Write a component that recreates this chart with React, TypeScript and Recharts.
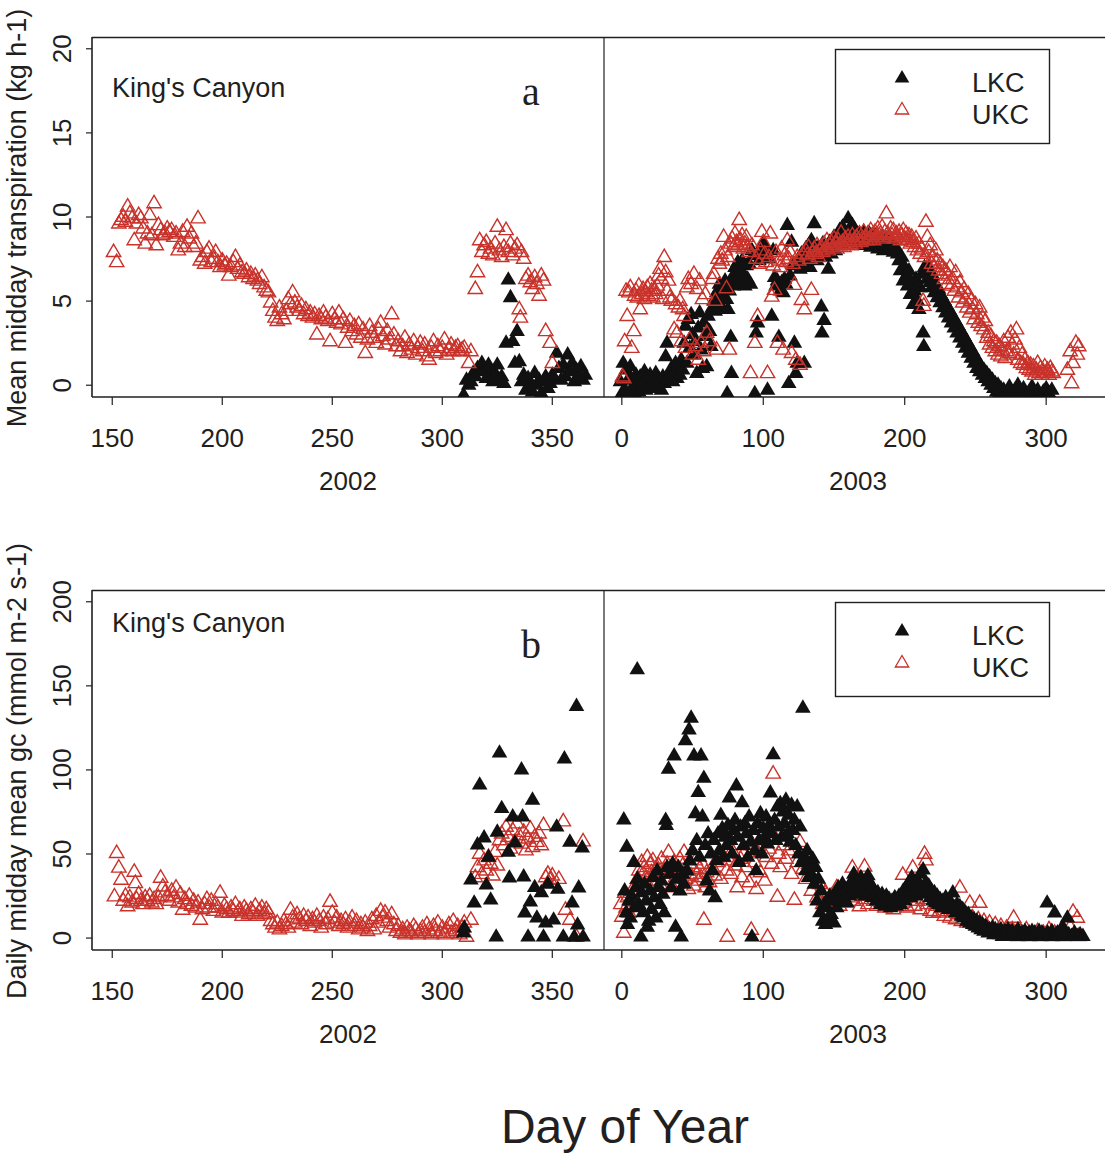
import React from 'react';
import { ScatterChart, Scatter, XAxis, YAxis } from 'recharts';

const RED = '#c8322a';
const BLK = '#111111';
const INK = '#231f20';
const FONT = '"Liberation Sans", Arial, Helvetica, sans-serif';

const ticks2002 = [150, 200, 250, 300, 350];
const ticks2003 = [0, 100, 200, 300];
const ticksTransp = [0, 5, 10, 15, 20];
const ticksGc = [0, 50, 100, 150, 200];
const yearLabels = ['2002', '2003'];
const legendLabels = ['LKC', 'UKC'];
const panelLetters = ['a', 'b'];
const yTitles = ['Mean midday transpiration (kg h-1)', 'Daily midday mean gc (mmol m-2 s-1)'];

// Panel a: mean midday transpiration (kg h-1)
const transpUKC2002: [number, number][] = [
  [150.6,7.9],[152,7.3],[153,9.6],[154,9.8],[155,10.0],[156,9.7],[157,10.6],[158,10.2],[159,9.9],[160,8.6],
  [161,9.6],[162,10.1],[163,9.9],[164,9.3],[165,8.4],[166,9.0],[167,10.1],[168,8.9],[169,10.8],[170,8.3],
  [171,9.5],[172,9.2],[173,8.9],[174,9.0],[175,9.3],[176,9.1],[177,9.2],[178,8.8],[179,9.0],[180,8.0],
  [181,8.4],[182,9.1],[183,8.2],[184,9.4],[185,8.7],[186,9.0],[187,8.2],[188,8.4],[189,9.9],[190,7.4],
  [191,7.6],[192,7.2],[193,7.9],[194,8.1],[195,7.3],[196,7.5],[197,7.9],[198,7.3],[199,7.0],[200,7.4],
  [201,7.1],[202,7.2],[203,6.5],[204,7.0],[205,7.3],[206,7.6],[207,6.9],[208,7.1],[209,6.7],[210,6.6],
  [211,6.8],[212,6.4],[213,6.6],[214,6.3],[215,6.5],[216,6.2],[217,6.0],[218,6.4],[219,5.8],[220,5.6],
  [221,5.5],[222,4.9],[223,4.4],[224,4.0],[225,3.8],[226,4.6],[227,4.2],[228,3.9],[229,4.4],[230,5.1],
  [231,4.8],[232,5.5],[233,4.9],[234,4.6],[235,4.4],[236,4.7],[237,4.2],[238,4.5],[239,4.1],[240,4.3],
  [241,4.0],[242,4.2],[243,3.0],[244,4.1],[245,3.9],[246,4.3],[247,4.0],[248,3.8],[249,2.6],[250,4.2],
  [251,3.9],[252,3.7],[253,4.3],[254,3.6],[255,3.9],[256,2.5],[257,3.4],[258,3.8],[259,3.2],[260,3.5],
  [261,3.0],[262,3.6],[263,2.8],[264,3.3],[265,1.9],[266,2.7],[267,3.5],[268,3.1],[269,2.8],[270,2.5],
  [271,3.3],[272,3.7],[273,2.9],[274,2.4],[275,3.2],[276,2.7],[277,4.2],[278,3.0],[279,2.3],[280,2.6],
  [281,2.0],[282,2.3],[283,2.8],[284,1.9],[285,2.4],[286,2.1],[287,2.6],[288,1.8],[289,2.2],[290,2.5],
  [291,2.0],[292,2.4],[293,1.7],[294,1.5],[295,2.2],[296,2.6],[297,1.9],[298,2.3],[299,2.0],[300,2.2],
  [301,2.7],[302,1.8],[303,2.1],[304,2.4],[305,2.0],[306,2.2],[307,2.3],[308,2.0],[309,2.1],[310,2.2],
  [312,1.3],[313,2.0],[315,5.7],[316,6.7],[317,8.6],[318,7.9],[319,8.3],[320,8.5],[321,7.8],[322,8.1],
  [323,7.7],[324,8.4],[325,9.4],[326,8.0],[327,7.6],[328,8.2],[329,9.2],[330,7.9],[331,8.4],[332,7.7],
  [333,8.1],[334,8.3],[335,4.5],[335.5,4.0],[336,7.9],[337,7.5],[338,6.3],[339,6.5],[340,6.1],[341,5.7],
  [342,6.4],[343,6.0],[344,5.3],[345,6.5],[346,6.2],[347,3.2],[349,2.5],[350,1.3],
];

const transpLKC2002: [number, number][] = [
  [309.7,-0.6],[311,0.3],[312,0.0],[313,0.2],[314,0.7],[315,0.5],[316,1.0],[317,0.8],[318,1.3],[319,0.9],
  [320,0.4],[321,1.2],[322,0.6],[323,0.2],[324,0.7],[325,1.2],[326,0.3],[327,0.5],[328,0.1],[329,2.5],
  [330,6.25],[331,5.2],[332,2.6],[333,1.3],[334,3.2],[335,1.4],[336,0.2],[337,0.6],[338,-0.3],[339,0.4],
  [340,0.1],[341,-0.4],[342,0.7],[343,0.0],[344,0.3],[345,-0.5],[346,0.2],[347,0.5],[348,-0.2],[349,0.1],
  [350,0.6],[351,0.4],[352,1.9],[353,1.0],[354,0.3],[355,1.2],[356,0.5],[357,1.8],[358,0.8],[359,1.3],
  [360,0.2],[361,0.9],[362,0.5],[363,1.1],[364,0.3],[365,0.6],
];

const transpUKC2003: [number, number][] = [
  [0.5,0.5],[1.4,0.4],[2,2.6],[3,5.6],[3.8,4.1],[5,5.5],[6,5.8],[7,2.2],[8.5,3.2],[9,5.3],
  [10,5.6],[11,5.2],[12,5.9],[13,4.5],[14,5.4],[15,5.7],[16,5.1],[17,5.5],[18,5.8],[19,5.3],
  [20,6.0],[21,5.6],[22,5.2],[23,5.7],[24,5.4],[25,5.9],[26,6.5],[27,6.9],[28,6.3],[29,5.1],
  [30,7.6],[31,6.7],[32,5.6],[33,6.2],[34,5.2],[35,5.0],[37,3.3],[38,4.8],[39,3.1],[40,4.6],
  [41,5.0],[42,2.6],[43,4.5],[44,4.1],[45,2.2],[46,5.8],[47,6.3],[48,2.7],[49,6.0],[50,1.8],
  [51,6.6],[52,2.3],[53,5.7],[54,1.5],[55,6.2],[56,2.5],[57,5.1],[58,2.0],[59,5.4],[60,3.1],
  [62,2.6],[64,6.3],[65,6.6],[66,5.0],[67,2.1],[68,7.5],[69,7.2],[70,7.8],[71,7.4],[72,8.8],
  [73,8.0],[74,5.75],[75,7.6],[76,2.1],[77,8.4],[78,8.7],[79,8.2],[80,9.0],[81,8.5],[82,8.3],
  [83,9.8],[84,8.6],[85,8.9],[86,8.1],[87,8.4],[88,8.8],[89,8.2],[90,7.9],[91,0.7],[92,8.3],
  [94,2.5],[95,7.5],[96,4.1],[97,7.2],[98,8.0],[99,9.1],[100,8.5],[101,7.8],[102,7.3],[103,0.7],
  [104,7.6],[105,9.0],[106,5.25],[107,7.1],[108,5.65],[109,7.9],[110,2.5],[111,7.4],[112,7.0],[113,8.1],
  [114,2.1],[115,7.7],[116,7.3],[117,8.6],[118,7.5],[119,7.9],[120,1.9],[121,7.2],[122,5.95],[123,1.5],
  [124,7.6],[125,7.4],[126,1.2],[127,5.05],[128,7.8],[129,4.5],[130,8.0],[131,7.7],[132,8.2],[133,7.5],
  [134,5.65],[135,7.9],[136,8.1],[137,7.8],[138,8.3],[139,7.6],[140,8.0],[141,8.2],[142,7.9],[143,8.4],
  [144,8.1],[145,8.6],[146,8.0],[147,8.3],[148,8.5],[149,8.2],[150,8.7],[151,8.4],[152,8.1],[153,8.6],
  [154,8.3],[155,9.05],[156,8.5],[157,8.2],[158,8.7],[159,8.4],[160,8.8],[161,8.5],[162,8.3],[163,8.9],
  [164,8.6],[165,8.4],[166,8.8],[167,8.6],[168,9.0],[169,8.5],[170,8.7],[171,9.1],[172,8.8],[173,8.6],
  [174,9.0],[175,8.7],[176,9.2],[177,8.9],[178,8.6],[179,9.1],[180,8.8],[181,9.3],[182,8.9],[183,9.0],
  [184,9.4],[185,8.7],[186,9.1],[187,10.2],[188,9.0],[189,8.8],[190,9.3],[191,8.9],[192,9.2],[193,8.7],
  [194,9.0],[195,8.8],[196,9.1],[197,8.6],[198,8.9],[199,9.2],[200,8.7],[201,9.0],[202,8.6],[203,8.9],
  [204,8.4],[205,8.8],[206,8.5],[207,8.2],[208,8.7],[209,8.0],[210,8.4],[211,7.8],[212,8.1],[213,5.0],
  [213.5,4.7],[214,7.6],[215,9.7],[216,8.8],[217,7.9],[218,8.3],[219,7.2],[220,7.6],[221,7.0],[222,8.0],
  [223,7.4],[224,6.8],[225,7.2],[226,6.6],[227,7.0],[228,6.3],[229,6.8],[230,6.0],[231,6.5],[232,7.0],
  [233,5.9],[234,6.3],[235,5.6],[236,6.7],[237,5.8],[238,5.2],[239,6.1],[240,5.5],[241,4.9],[242,5.7],
  [243,5.1],[244,4.6],[245,5.4],[246,4.3],[247,5.0],[248,4.5],[249,3.9],[250,4.8],[251,4.2],[252,3.7],
  [253,4.6],[254,3.5],[255,4.0],[256,3.3],[257,3.8],[258,2.8],[259,3.1],[260,2.4],[261,2.9],[262,2.2],
  [263,2.6],[264,2.0],[265,2.5],[266,1.8],[267,2.3],[268,1.7],[269,2.1],[270,2.6],[271,1.6],[272,2.0],
  [273,2.8],[274,1.9],[275,3.1],[276,2.4],[277,1.8],[278,2.7],[279,3.3],[280,1.5],[281,2.2],[282,1.3],
  [283,1.8],[284,1.2],[285,1.5],[286,1.0],[287,1.3],[288,0.9],[289,1.2],[290,0.8],[291,1.1],[292,0.6],
  [293,0.9],[294,1.3],[295,0.7],[296,1.0],[297,0.6],[298,0.8],[299,1.1],[300,0.7],[301,0.9],[302,0.6],
  [303,1.0],[304,0.8],[305,0.7],[315,0.9],[317,2.0],[318,0.1],[319,1.3],[321,2.5],[322,1.8],[323,2.3],
];

const transpLKC2003: [number, number][] = [
  [-1,0.2],[0,-0.5],[1,1.3],[2,-0.3],[3,0.9],[4,-0.6],[5,0.4],[6,1.1],[7,-0.2],[8,0.3],
  [9,-0.5],[10,0.6],[11,0.1],[12,-0.4],[13,0.5],[14,-0.1],[15,0.2],[16,0.8],[17,-0.3],[18,0.4],
  [19,0.0],[20,0.6],[21,-0.2],[22,0.3],[23,0.1],[24,0.7],[25,-0.1],[26,0.4],[27,0.2],[28,-0.3],
  [29,0.5],[30,0.1],[31,1.7],[32,2.5],[33,0.3],[34,0.6],[35,1.0],[36,0.2],[37,0.8],[38,1.3],
  [39,0.4],[40,1.1],[41,0.6],[42,1.5],[43,0.9],[44,2.5],[45,3.5],[46,1.3],[47,3.9],[48,2.2],
  [49,4.2],[50,3.0],[51,1.8],[52,2.6],[53,0.7],[54,3.4],[55,4.3],[56,2.1],[57,1.0],[58,3.7],
  [59,2.9],[60,1.1],[61,4.1],[62,3.2],[63,2.3],[64,4.6],[65,5.0],[66,4.4],[67,5.5],[68,4.8],
  [69,6.0],[70,5.3],[71,4.6],[72,5.8],[73,6.2],[74,5.1],[74.5,-0.5],[75,4.5],[76,5.6],[77,2.85],
  [77.5,0.7],[78,6.4],[79,5.9],[80,7.0],[81,6.5],[82,7.3],[83,6.1],[84,6.8],[85,7.4],[86,6.6],
  [87,5.9],[88,7.1],[89,6.3],[90,7.2],[91,6.0],[92,8.0],[93,7.7],[94,-0.5],[95,3.1],[96,3.7],
  [97,7.4],[98,8.1],[99,7.6],[100,8.4],[101,7.9],[102,8.2],[103,-0.3],[104,7.5],[106,4.1],[107,8.0],
  [108,6.4],[109,5.9],[110,6.2],[111,2.85],[112,5.6],[113,6.1],[114,5.5],[115,6.3],[116,6.0],[117,9.5],
  [118,0.1],[119,6.5],[120,8.5],[121,7.1],[122,2.5],[123,0.7],[124,1.3],[125,7.4],[126,6.9],[127,7.8],
  [128,7.2],[129,1.3],[130,8.1],[131,7.5],[132,8.3],[133,7.0],[134,8.6],[135,7.7],[136,9.6],[137,8.0],
  [138,7.4],[139,8.2],[140,7.9],[141,4.65],[141.5,3.1],[142,8.4],[143,3.85],[144,7.6],[145,8.2],[146,6.9],
  [147,8.5],[148,7.8],[149,8.3],[150,8.8],[151,8.0],[152,8.6],[153,9.0],[154,9.2],[155,8.4],[156,9.4],
  [157,8.7],[158,9.1],[159,8.5],[160,9.9],[161,9.3],[162,8.8],[163,9.5],[164,8.6],[165,9.2],[166,8.9],
  [167,8.4],[168,9.0],[169,8.7],[170,8.5],[171,9.1],[172,8.3],[173,8.8],[174,8.6],[175,9.0],[176,8.2],
  [177,8.7],[178,8.4],[179,8.9],[180,8.5],[181,8.1],[182,8.6],[183,8.3],[184,8.8],[185,8.0],[186,8.4],
  [187,8.7],[188,8.1],[189,8.5],[190,8.2],[191,8.6],[192,7.9],[193,8.3],[194,8.0],[195,7.8],[196,7.4],
  [197,6.8],[198,7.6],[199,6.2],[200,7.0],[201,6.5],[202,5.9],[203,6.8],[204,5.4],[205,6.1],[206,4.8],
  [207,5.6],[208,6.3],[209,5.0],[210,4.5],[211,5.8],[212,6.6],[213,3.1],[213.5,2.3],[214,7.0],[215,6.7],
  [216,6.3],[217,7.0],[218,6.1],[219,5.8],[220,6.5],[221,5.5],[222,6.0],[223,5.2],[224,5.7],[225,4.9],
  [226,5.3],[227,4.6],[228,5.0],[229,4.3],[230,4.7],[231,4.0],[232,4.4],[233,3.7],[234,4.1],[235,3.4],
  [236,3.8],[237,3.1],[238,3.5],[239,2.8],[240,3.2],[241,2.5],[242,2.9],[243,2.2],[244,2.6],[245,1.9],
  [246,2.3],[247,1.6],[248,2.0],[249,1.3],[250,1.7],[251,1.0],[252,1.4],[253,0.8],[254,1.1],[255,0.6],
  [256,0.9],[257,0.4],[258,0.7],[259,0.2],[260,0.5],[261,0.0],[262,0.3],[263,-0.2],[264,0.1],[265,-0.4],
  [266,0.0],[267,-0.5],[268,-0.2],[269,-0.6],[270,-0.3],[272,-0.5],[274,-0.1],[276,-0.6],[278,-0.3],[280,0.0],
  [282,-0.5],[284,-0.2],[286,-0.6],[288,-0.4],[290,-0.1],[292,-0.5],[294,-0.3],[296,-0.6],[298,-0.4],[300,-0.2],
  [302,-0.5],[304,-0.3],
];

// Panel b: daily midday mean gc (mmol m-2 s-1)
const gcUKC2002: [number, number][] = [
  [151,24.6],[152,50.4],[153,41.7],[154,34.5],[155,22],[156,25],[157,18.7],[158,24],[159,21],[160,39.3],
  [160.5,32.5],[161,23],[162,26],[163,22],[164,20],[165,24],[166,22],[167,25],[168,21],[169,23],
  [170,20],[171,24],[172,35.7],[173,30.5],[174,27],[175,25],[176,22],[177,28],[178,24],[179,29.8],
  [180,21],[181,26],[182,16.7],[183,23],[184,20],[185,25],[186,19],[187,22],[188,18],[189,21],
  [190,10.7],[191,17],[192,20],[193,23],[194,18],[195,22],[196,16],[197,20],[198,18],[199,26.8],
  [200,15],[201,19],[202,17],[203,14.9],[204,18],[205,16],[206,20],[207,15],[208,17],[209,13],
  [210,18],[211,16],[212,14],[213,17],[214,15],[215,19],[216,13],[217,16],[218,18],[219,14],
  [220,17],[221,15],[222,10],[223,8],[224,6],[225,9],[226,5],[227,7],[228,10],[229,8],
  [230,6],[231,16.7],[232,12],[233,9],[234,14],[235,11],[236,8],[237,13],[238,10],[239,12],
  [240,7],[241,11],[242,9],[243,13],[244,10],[245,6],[246,12],[247,8],[248,11],[249,21.4],
  [250,14.9],[251,9],[252,12],[253,7],[254,10],[255,8],[256,11],[257,6],[258,9],[259,12],
  [260,7],[261,10],[262,5],[263,8],[264,6],[265,9],[266,4],[267,7],[268,11],[269,5],
  [270,13],[271,9],[272,16],[273,12],[274,15],[275,10],[276,6],[277,14],[278,8],[279,4],
  [280,7],[281,3],[282,5],[283,2],[284,6],[285,4],[286,3],[287,7],[288,5],[289,2],
  [290,4],[291,6],[292,3],[293,8],[294,5],[295,2],[296,7],[297,4],[298,9],[299,3],
  [300,6],[301,2],[302,5],[303,8],[304,3],[305,10],[306,4],[307,7],[308,2],[309,6],
  [310,9],[311,0.6],[313,10.7],[315,36],[316,42],[317,50],[318,38],[319,46],[320,40],[321,48],
  [322,44],[323,37],[324,51],[325,43],[326,58],[327,62],[328,55],[329,66],[330,60],[331,53],
  [332,64],[333,57],[334,68],[335,61],[336,56],[337,63],[338,52],[339,59],[340,65],[341,54],
  [342,60],[343,57],[344,62],[345,55],[346,67],[347,36],[348,38],[349,34.5],[350,37],[353,35],
  [355,69.2],[356,16.7],[358,10.7],[361,0.6],[364,57.3],
];

const gcLKC2002: [number, number][] = [
  [309.7,3],[310,6.0],[313,34.5],[314.5,20.8],[316,55.4],[317,91],[319,59.5],[320,31.5],[321,48],[322,22.6],
  [324.5,0.6],[325,63],[326,110],[327,77],[330,51],[330.5,35.7],[332,72],[333,56.5],[336,100],[336.5,72],
  [337,36.3],[337.5,14.9],[339,0.6],[340,21.4],[341,82],[342,30],[343,11.9],[345,27],[346,0.6],[347,8.9],
  [348,32],[350.6,10.7],[352,66],[352.5,29],[355,0.6],[355.5,106.5],[358,57],[359,20.8],[360,0.6],[361,137.7],
  [361.5,7.7],[362,29.8],[363.6,53.6],[364,0.6],
];

const gcUKC2003: [number, number][] = [
  [-0.7,20],[0,12.5],[1.4,3.0],[2,26.8],[3,18],[4,24],[5,15],[6,22],[7,28],[8,20],
  [10,30],[11,35],[12,40],[13,33],[14,45],[15,38],[16,42],[17,36],[18,48],[19,31],
  [20,44],[21,39],[22,46],[23,34],[24,41],[25,37],[26,43],[27,32],[28,47],[29,38],
  [30,40],[31,35],[32,44],[33,51],[34,39],[35,42],[36,30],[37,45],[38,36],[39,41],
  [40,33],[41,47],[42,38],[43,43],[44,51],[45,35],[46,40],[47,29],[48,44],[49,37],
  [50,42],[51,31],[52,46],[53,38],[54,34],[55,41],[56,36],[57,44],[58,10.7],[59,30],
  [60,39],[62,33],[64,42],[66,37],[68,45],[70,35],[72,48],[74,40],[74.5,0.6],[76,46],
  [77,38],[78,52],[80,43],[81.5,30],[82,55],[84,47],[85,36],[86,50],[88,42],[90,33],
  [91.5,4.8],[92,56],[94,45],[95,29],[96,51],[98,39],[100,58],[101,34],[102,48],[103,0.6],
  [104,53],[106,44],[107,97.6],[108,60],[110,24.4],[111,50],[112,42],[114,55],[116,47],[118,52],
  [120,38],[122,22.6],[124,45],[126,57],[128,41],[130,35],[132,44],[134,28],[136,38],[138,24],
  [140,32],[142,20],[144,27],[146,18.7],[148,25],[150,22],[152,30],[154,19],[156,26],[158,21],
  [160,28],[162,24],[163,41.7],[164,22],[166,27],[168,18.7],[170,25],[171.6,42.3],[172,23],[174,20],
  [176,26],[178,22],[180,19],[182,24],[184,21],[186,18],[188,23],[190,20],[192,17],[194,22],
  [196,19],[198.6,37.5],[200,21],[202,18],[204,24],[205.7,41.7],[207,19],[209,22],[211,17],[213,23],
  [214,50],[215,46],[216,20],[218,16],[220,14.9],[222,19],[224,15],[226,18],[228,13],[230,16],
  [232,12],[234,15],[236,11],[238,14],[239,29.8],[240,10],[242,13],[244,9],[246,20.8],[248,12],
  [250,8],[252,11],[253,20.8],[254,7],[256,10],[258,6],[260,9],[262,5],[264,8],[266,4],
  [268,7],[270,3],[272,6],[274,2],[276,5],[277,11.9],[278,3],[280,1],[282,4],[284,2],
  [286,5],[288,1],[290,3],[292,2],[294,4],[296,1],[298,3],[300,2],[302,5],[304,1],
  [306,3],[308,2],[310,4],[312,1],[314,3],[317,6.5],[319,15.5],[320,2],[322,11.9],[323,1],
];

const gcLKC2003: [number, number][] = [
  [1.4,70.2],[3.5,54],[2,28],[3,15],[4,8],[5,22],[6,12],[7,25],[8.5,45],[9,18],
  [10,30],[10.9,159.5],[11,35],[12,20],[13.5,0.6],[14,27],[15,15],[16,32],[17,22],[18,6.5],
  [19,10],[20,28],[21,17],[22,36],[23,24],[24,12],[25,40],[26,30],[27,20],[28,34],
  [29,26],[30,15],[31,70],[31.5,67],[32,42],[33,100.4],[34,38],[35,30],[36,44],[37,108.3],
  [38,6.5],[39,35],[40,42],[41,28],[42,0.6],[43,38],[44,32],[45,117.4],[46,40],[47.5,123.8],
  [48,46],[49,130.8],[50,52],[51,108.3],[52,74],[53,58],[54,86.5],[55,48],[56,108.3],[57,72],
  [58,95],[59,55],[60,34],[61,62],[62,28],[63,50],[64,40],[65,58],[66,24],[67,46],
  [68,62],[69,52],[70,73],[71,65],[72,48],[73,60],[74,55],[75,67],[76,83.3],[77,58],
  [78,50],[79,64],[80,70],[81,90.5],[82,60],[83,45],[84,66],[85,80.4],[86,55],[87,68],
  [88,62],[89,48],[90,72],[91,57],[92,0.6],[93,64],[94,52],[95,40],[96,68],[97,58],
  [98,74],[99,50],[100,65],[101,60],[102,72],[103,56],[104,67],[105,86.3],[106,62],[107,109],
  [108,70],[109,58],[110,78],[111,66],[112,80],[113,60],[114,75],[115,68],[116,82],[117,62],
  [118,73],[119,57],[120,79],[121,64],[122,70],[123,55],[124,78],[125,50],[126,66],[127,45],
  [128,136.7],[129,48],[130,40],[131,52],[132,36],[133,44],[134,38],[135,47],[136,32],[137,42],
  [138,22],[139,35],[140,15],[141,28],[142,10],[143,20],[144,8],[145,18],[146,12],[147,25],
  [148,14],[149,22],[150,9],[151,27],[152,18],[153,30],[154,22],[155,26],[156,32],[157,24],
  [158,28],[159,21],[160,30],[161,25],[162,33],[163,27],[164,38],[165,29],[166,34],[167,26],
  [168,31],[169,36],[170,28],[171,33],[172,25],[173,30],[174,37],[175,27],[176,32],[177,24],
  [178,29],[179,26],[180,22],[181,27],[182,24],[183,20],[184,26],[185,22],[186,19],[187,25],
  [188,21],[189,23],[190,18],[191,22],[192,20],[193,24],[194,19],[195,21],[196,25],[197,20],
  [198,23],[199,28],[200,22],[201,30],[202,26],[203,33],[204,24],[205,36],[206,28],[207,31],
  [208,25],[209,34],[210,27],[211,38],[212,30],[213,40.5],[214,29],[215,33],[216,26],[217,31],
  [218,24],[219,28],[220,22],[221,27],[222,21],[223,25],[224,20],[225,23],[226,18],[227,22],
  [228,19],[229,24],[230,20],[231,17],[232,22],[233,19],[234,26.8],[235,18],[236,15],[237,20],
  [238,16],[239,18.7],[240,13],[241,17],[242,12],[243,15],[244,10],[245,14],[246,9],[247,12],
  [248,8],[249,11],[250,7],[251,10],[252,6],[253,9],[254,5],[255,8],[256,4],[257,7],
  [258,6],[259,3],[260,5],[261,4],[262,6],[263,2],[264,5],[265,3],[266,4],[267,2],
  [268,5],[269,1],[270,3],[271,4],[272,2],[273,5],[274,1],[275,3],[276,4],[277,2],
  [278,1],[279,3],[280,5],[281,2],[282,1],[283,3],[284,2],[285,4],[286,1],[287,2],
  [288,3],[289,1],[290,4],[291,2],[292,3],[293,1],[294,2],[295,4],[296,1],[297,3],
  [298,2],[299,1],[300.7,20.8],[301,3],[302,1],[303,2],[304,4],[305,1],[306,14.9],[307,2],
  [308,3],[309,1],[310,2],[311.7,6.5],[312,3],[313,1],[315,11.9],[316,2],[318,1],[320,3],
  [322,1],[324,2],[326,1],
];

const toPts = (a: [number, number][]) => a.map(([x, y]) => ({ x, y }));

const OpenTri = (p: any) => {
  const { cx, cy } = p;
  if (cx == null || cy == null) return <g />;
  return (
    <polygon
      points={`${cx},${cy - 8.2} ${cx + 7.2},${cy + 4.2} ${cx - 7.2},${cy + 4.2}`}
      fill="none"
      stroke={RED}
      strokeWidth={1.4}
    />
  );
};

const FillTri = (p: any) => {
  const { cx, cy } = p;
  if (cx == null || cy == null) return <g />;
  return (
    <polygon
      points={`${cx},${cy - 8.9} ${cx + 7.8},${cy + 4.5} ${cx - 7.8},${cy + 4.5}`}
      fill={BLK}
      stroke="none"
    />
  );
};

const XTick = (p: any) => {
  const { x, y, payload } = p;
  return (
    <text x={x} y={y + 42} textAnchor="middle" fontSize={26} fontFamily={FONT} fill={INK}>
      {payload.value}
    </text>
  );
};

const YTick = (p: any) => {
  const { x, y, payload } = p;
  const bx = x - 15;
  return (
    <text
      x={bx}
      y={y}
      textAnchor="middle"
      fontSize={26}
      fontFamily={FONT}
      fill={INK}
      transform={`rotate(-90 ${bx} ${y})`}
    >
      {payload.value}
    </text>
  );
};

type HalfProps = {
  left: number;
  top: number;
  width: number;
  xDomain: [number, number];
  yDomain: [number, number];
  xTicks: number[];
  yTicks: number[];
  showY: boolean;
  lkc: [number, number][];
  ukc: [number, number][];
  blackOnTop: boolean;
};

function Half(props: HalfProps) {
  const { left, top, width, xDomain, yDomain, xTicks, yTicks, showY, lkc, ukc, blackOnTop } = props;
  const black = (
    <Scatter key="lkc" name="LKC" data={toPts(lkc)} shape={FillTri} isAnimationActive={false} />
  );
  const red = (
    <Scatter key="ukc" name="UKC" data={toPts(ukc)} shape={OpenTri} isAnimationActive={false} />
  );
  return (
    <div style={{ position: 'absolute', left, top }}>
      <ScatterChart width={width} height={470} margin={{ top: 37, right: 0, bottom: 0, left: 0 }}>
        <XAxis
          type="number"
          dataKey="x"
          domain={xDomain}
          ticks={xTicks}
          allowDataOverflow
          height={73}
          tickSize={8}
          tickMargin={0}
          axisLine={{ stroke: INK, strokeWidth: 1.6 }}
          tickLine={{ stroke: INK, strokeWidth: 1.2 }}
          tick={XTick}
          interval={0}
        />
        {showY ? (
          <YAxis
            type="number"
            dataKey="y"
            domain={yDomain}
            ticks={yTicks}
            allowDataOverflow
            width={92}
            tickSize={6}
            tickMargin={0}
            axisLine={{ stroke: INK, strokeWidth: 1.6 }}
            tickLine={{ stroke: INK, strokeWidth: 1.2 }}
            tick={YTick}
            interval={0}
          />
        ) : (
          <YAxis type="number" dataKey="y" domain={yDomain} allowDataOverflow hide width={0} />
        )}
        {blackOnTop ? [red, black] : [black, red]}
      </ScatterChart>
    </div>
  );
}

const DOM2002: [number, number] = [140.8, 373.5];
const DOM2003: [number, number] = [-12.6, 341.6];
const DOMA: [number, number] = [-0.7, 20.7];
const DOMB: [number, number] = [-7.1, 207];

export default function App() {
  const offs = [0, 553];
  const canyonY = [97, 632];
  const titleY = [218, 771];
  return (
    <div style={{ position: 'absolute', left: 0, top: 0, width: 1105, height: 1154, background: '#fff', overflow: 'hidden' }}>
      <Half left={0} top={0} width={604} xDomain={DOM2002} yDomain={DOMA} xTicks={ticks2002} yTicks={ticksTransp} showY lkc={transpLKC2002} ukc={transpUKC2002} blackOnTop={false} />
      <Half left={604} top={0} width={501} xDomain={DOM2003} yDomain={DOMA} xTicks={ticks2003} yTicks={ticksTransp} showY={false} lkc={transpLKC2003} ukc={transpUKC2003} blackOnTop={false} />
      <Half left={0} top={553} width={604} xDomain={DOM2002} yDomain={DOMB} xTicks={ticks2002} yTicks={ticksGc} showY lkc={gcLKC2002} ukc={gcUKC2002} blackOnTop />
      <Half left={604} top={553} width={501} xDomain={DOM2003} yDomain={DOMB} xTicks={ticks2003} yTicks={ticksGc} showY={false} lkc={gcLKC2003} ukc={gcUKC2003} blackOnTop />
      <svg width={1105} height={1154} style={{ position: 'absolute', left: 0, top: 0, pointerEvents: 'none' }}>
        {offs.map((off, i) => (
          <g key={off} fontFamily={FONT} fill={INK}>
            <line x1={92} x2={1105} y1={37.5 + off} y2={37.5 + off} stroke={INK} strokeWidth={1.6} />
            <line x1={604} x2={604} y1={37 + off} y2={397 + off} stroke={INK} strokeWidth={1.2} />
            <text x={112} y={canyonY[i]} fontSize={27}>King's Canyon</text>
            <text x={531} y={105 + off} fontSize={40} textAnchor="middle" fontFamily='"Liberation Serif", "Times New Roman", serif'>
              {panelLetters[i]}
            </text>
            <rect x={835.5} y={49.5 + off} width={214} height={94} fill="none" stroke={INK} strokeWidth={1.4} />
            <polygon points={`902,${70 + off} 909.3,${82.6 + off} 894.7,${82.6 + off}`} fill={BLK} />
            <polygon points={`902,${102.5 + off} 908.7,${114 + off} 895.3,${114 + off}`} fill="none" stroke={RED} strokeWidth={1.3} />
            <text x={972} y={92 + off} fontSize={27}>{legendLabels[0]}</text>
            <text x={972} y={123.5 + off} fontSize={27}>{legendLabels[1]}</text>
            <text x={348} y={490 + off} fontSize={26} textAnchor="middle">{yearLabels[0]}</text>
            <text x={858} y={490 + off} fontSize={26} textAnchor="middle">{yearLabels[1]}</text>
            <text
              x={26}
              y={titleY[i]}
              fontSize={27}
              textAnchor="middle"
              transform={`rotate(-90 26 ${titleY[i]})`}
            >
              {yTitles[i]}
            </text>
          </g>
        ))}
        <text x={625} y={1143} fontSize={48} textAnchor="middle" fontFamily={FONT} fill={INK}>
          Day of Year
        </text>
      </svg>
    </div>
  );
}
